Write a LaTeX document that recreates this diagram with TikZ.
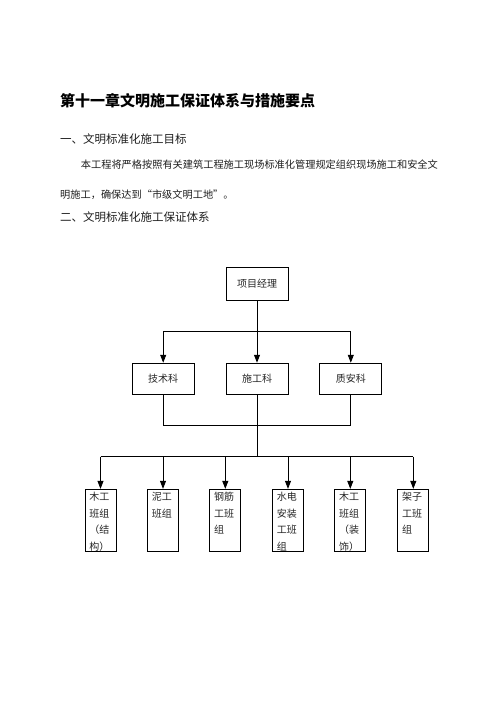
\documentclass[tikz,border=0pt]{standalone}
\usepackage{fontspec}
\setmainfont{Noto Sans CJK SC}
\usetikzlibrary{arrows.meta}
\begin{document}
\begin{tikzpicture}[x=1pt,y=-1pt,
  ln/.style={line width=0.9pt,black},
  arr/.style={ln,-{Triangle[length=8pt,width=6pt]}},
  box/.style={draw,line width=0.9pt,inner sep=0pt,text=black!85,font=\fontsize{10}{12}\selectfont},
  topbox/.style={box,minimum width=62pt,minimum height=33pt},
  midbox/.style={box,minimum width=62pt,minimum height=31pt},
  lowbox/.style={box,minimum width=31pt,minimum height=62.4pt},
  lowtxt/.style={anchor=north west,inner sep=0pt,align=left,text=black!85,font=\fontsize{10}{16.7}\selectfont},
  txt/.style={anchor=base west,inner sep=0pt,text=black!88}]
\useasboundingbox[fill=white] (0,0) rectangle (496,702);

% texts
\node[txt,text=black,font=\fontsize{15}{18}\selectfont\bfseries] (h0) at (60,106.7) {第十一章文明施工保证体系与措施要点};
\node[txt,font=\fontsize{11.5}{14}\selectfont] (h1) at (60,143.7) {一、文明标准化施工目标};
\node[txt,font=\fontsize{10.2}{12}\selectfont] (p1) at (80.7,168.2) {本工程将严格按照有关建筑工程施工现场标准化管理规定组织现场施工和安全文};
\node[txt,font=\fontsize{10.2}{12}\selectfont] (p2) at (60,198.2) {明施工，确保达到“市级文明工地”。};
\node[txt,font=\fontsize{11.5}{14}\selectfont] (h2) at (60,221.1) {二、文明标准化施工保证体系};

% boxes
\node[topbox] (pm) at (257,283.5) {项目经理};
\node[midbox] (k1) at (163.2,378.7) {技术科};
\node[midbox] (k2) at (257,378.7) {施工科};
\node[midbox] (k3) at (350.8,378.7) {质安科};

\node[lowbox] (b1) at (100.5,520.5) {};
\node[lowbox] (b2) at (163,520.5) {};
\node[lowbox] (b3) at (225.3,520.5) {};
\node[lowbox] (b4) at (288,520.5) {};
\node[lowbox] (b5) at (350.3,520.5) {};
\node[lowbox] (b6) at (413.3,520.5) {};

\node[lowtxt] (t1) at ([shift={(4.5,3)}]b1.north west) {木工\\班组\\（结\\构）};
\node[lowtxt] (t2) at ([shift={(4.5,3)}]b2.north west) {泥工\\班组};
\node[lowtxt] (t3) at ([shift={(4.5,3)}]b3.north west) {钢筋\\工班\\组};
\node[lowtxt] (t4) at ([shift={(4.5,3)}]b4.north west) {水电\\安装\\工班\\组};
\node[lowtxt] (t5) at ([shift={(4.5,3)}]b5.north west) {木工\\班组\\（装\\饰）};
\node[lowtxt] (t6) at ([shift={(4.5,3)}]b6.north west) {架子\\工班\\组};

% connectors top -> middle
\coordinate (ja) at (257,331);
\coordinate (jal) at (k1 |- ja);
\coordinate (jar) at (k3 |- ja);
\draw[arr] (pm) -- (k2);
\draw[ln] (jal) -- (jar);
\draw[arr] (jal) -- (k1);
\draw[arr] (jar) -- (k3);

% middle -> bottom
\coordinate (jb) at (257,425.7);
\coordinate (jbl) at (k1 |- jb);
\coordinate (jbr) at (k3 |- jb);
\coordinate (jc) at (257,456.7);
\draw[ln] (k1) -- (jbl) -- (jbr) -- (k3);
\draw[ln] (k2) -- (jc);
\coordinate (jc1) at (b1 |- jc);
\coordinate (jc6) at (b6 |- jc);
\draw[ln] (jc1) -- (jc6);
\foreach \i in {1,...,6}{
  \coordinate (jd\i) at (b\i |- jc);
  \draw[arr] (jd\i) -- (b\i);
}
\end{tikzpicture}
\end{document}
